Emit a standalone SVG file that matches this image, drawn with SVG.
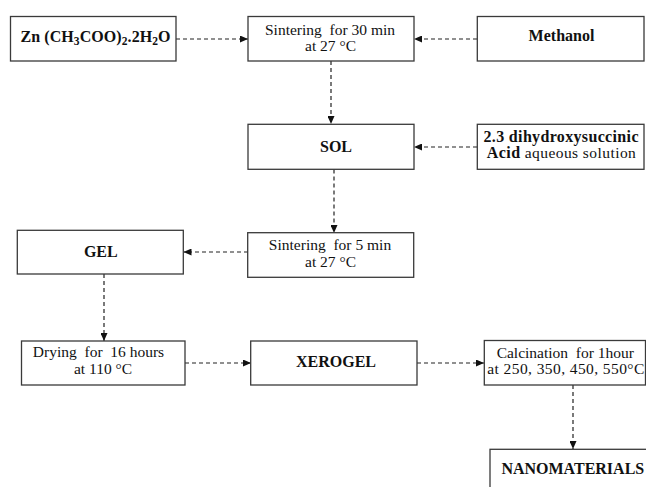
<svg xmlns="http://www.w3.org/2000/svg" width="646" height="487" viewBox="0 0 646 487">
<style>
.box{fill:#fff;stroke:#3a3a3a;stroke-width:1.3}
.t{font-family:'Liberation Serif','Tinos','Times New Roman','DejaVu Serif',serif;font-size:15.5px;fill:#111;text-anchor:middle}
.b{font-weight:bold;font-size:16px}
.sub{font-size:11.5px}
.conn{fill:none;stroke:#222;stroke-width:1.2;stroke-dasharray:4 3;marker-end:url(#ah)}
</style>
<defs>
<marker id="ah" markerUnits="userSpaceOnUse" markerWidth="8" markerHeight="7" refX="8" refY="3.5" orient="auto">
<path d="M0,0 L8,3.5 L0,7 z" fill="#111"/>
</marker>
</defs>
<rect width="646" height="487" fill="#fff"/>
<g id="connectors">
<path class="conn" d="M176,39 H248"/>
<path class="conn" d="M477,39 H414"/>
<path class="conn" d="M331,61 V124"/>
<path class="conn" d="M477,147 H414"/>
<path class="conn" d="M334,169.5 V233"/>
<path class="conn" d="M248,252 H183.5"/>
<path class="conn" d="M104,274 V341"/>
<path class="conn" d="M185,363 H251"/>
<path class="conn" d="M417,363 H484"/>
<path class="conn" d="M573,385 V449"/>
</g>
<g id="zn">
<rect class="box" x="10.5" y="16.5" width="165.5" height="44.5"/>
<text class="t b" x="95.5" y="41.5" textLength="150" lengthAdjust="spacing" xml:space="preserve">Zn (CH<tspan class="sub" dy="3">3</tspan><tspan dy="-3">COO)</tspan><tspan class="sub" dy="3">2</tspan><tspan dy="-3">.2H</tspan><tspan class="sub" dy="3">2</tspan><tspan dy="-3">O</tspan></text>
</g>
<g id="sinter30">
<rect class="box" x="248" y="16.5" width="166" height="44.5"/>
<text class="t" x="330" y="34.5" xml:space="preserve">Sintering  for 30 min</text>
<text class="t" x="330.5" y="51">at 27 °C</text>
</g>
<g id="methanol">
<rect class="box" x="477.3" y="16.5" width="166.7" height="44.5"/>
<text class="t b" x="561.5" y="40.5">Methanol</text>
</g>
<g id="sol">
<rect class="box" x="248" y="124.3" width="166" height="45"/>
<text class="t b" x="336" y="152">SOL</text>
</g>
<g id="acid">
<rect class="box" x="477.3" y="124.3" width="166.7" height="45"/>
<text class="t b" x="561" y="142" textLength="155" lengthAdjust="spacing">2.3 dihydroxysuccinic</text>
<text class="t" x="561.3" y="158.3" textLength="149" lengthAdjust="spacing"><tspan class="b">Acid</tspan> aqueous solution</text>
</g>
<g id="sinter5">
<rect class="box" x="247.7" y="232.7" width="166" height="44.6"/>
<text class="t" x="330" y="250.3" xml:space="preserve">Sintering  for 5 min</text>
<text class="t" x="330.5" y="266.8">at 27 °C</text>
</g>
<g id="gel">
<rect class="box" x="17.3" y="230.3" width="166" height="43.7"/>
<text class="t b" x="100.8" y="257">GEL</text>
</g>
<g id="drying">
<rect class="box" x="21.5" y="341" width="163.5" height="44"/>
<text class="t" x="98.5" y="357.2" xml:space="preserve">Drying  for  16 hours</text>
<text class="t" x="103" y="373.5">at 110 °C</text>
</g>
<g id="xerogel">
<rect class="box" x="250.7" y="341" width="166.3" height="44"/>
<text class="t b" x="336" y="367">XEROGEL</text>
</g>
<g id="calcination">
<rect class="box" x="484.3" y="340.5" width="161.2" height="44.5"/>
<text class="t" x="565.3" y="357.5" xml:space="preserve">Calcination  for 1hour</text>
<text class="t" x="565.8" y="374.3" textLength="157" lengthAdjust="spacing">at 250, 350, 450, 550°C</text>
</g>
<g id="nanomaterials">
<rect class="box" x="490" y="449.3" width="170" height="50"/>
<text class="t b" x="572.8" y="473.5">NANOMATERIALS</text>
</g>
</svg>
